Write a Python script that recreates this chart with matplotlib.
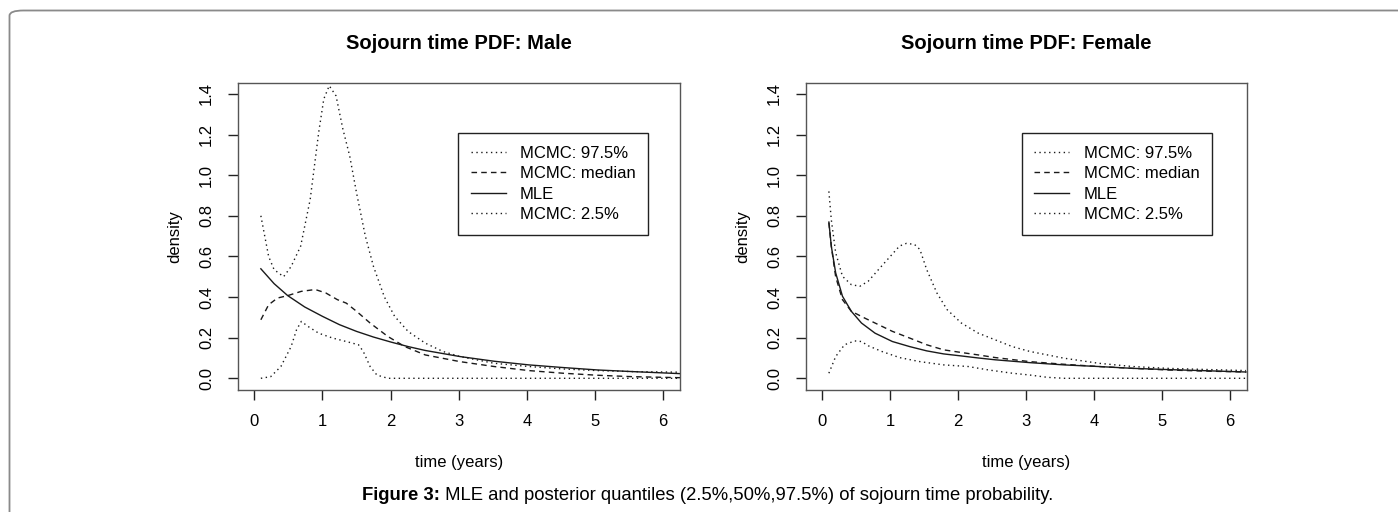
import matplotlib
matplotlib.use("Agg")
import matplotlib.pyplot as plt
from matplotlib.patches import FancyBboxPatch

plt.rcParams['font.family'] = ['Liberation Sans', 'DejaVu Sans']

# ---- Male panel ----
male_hi_x = [0.096, 0.21, 0.29, 0.43, 0.54, 0.68, 0.82, 0.945, 1.02, 1.10, 1.20, 1.30, 1.40, 1.50,
             1.63, 1.75, 1.91, 2.06, 2.26, 2.51, 2.77, 3.02, 3.52, 4.03, 4.53, 5.04, 5.55, 6.25]
male_hi_y = [0.80, 0.60, 0.535, 0.50, 0.55, 0.65, 0.88, 1.21, 1.375, 1.44, 1.39, 1.227, 1.095, 0.914,
             0.70, 0.55, 0.40, 0.305, 0.23, 0.173, 0.132, 0.107, 0.074, 0.058, 0.046, 0.038, 0.033, 0.030]

male_med_x = [0.096, 0.21, 0.34, 0.49, 0.69, 0.895, 1.05, 1.22, 1.35, 1.50, 1.70, 1.96, 2.21, 2.51,
              3.02, 3.52, 4.03, 4.53, 5.04, 5.55, 6.25]
male_med_y = [0.288, 0.362, 0.395, 0.407, 0.428, 0.437, 0.42, 0.387, 0.37, 0.33, 0.272, 0.206, 0.156, 0.115,
              0.082, 0.058, 0.038, 0.025, 0.015, 0.008, 0.003]

male_mle_x = [0.096, 0.29, 0.49, 0.74, 1.0, 1.25, 1.50, 1.75, 2.01, 2.26, 2.51, 3.02, 3.52, 4.03,
              4.53, 5.04, 5.55, 6.25]
male_mle_y = [0.539, 0.466, 0.407, 0.351, 0.305, 0.264, 0.231, 0.203, 0.178, 0.156, 0.137, 0.107, 0.084, 0.066,
              0.053, 0.041, 0.033, 0.023]

male_lo_x = [0.096, 0.24, 0.39, 0.54, 0.62, 0.69, 0.79, 0.945, 1.15, 1.35, 1.53, 1.60, 1.70, 1.80,
             1.96, 3.0, 4.0, 5.0, 6.25]
male_lo_y = [0.0, 0.008, 0.058, 0.156, 0.239, 0.28, 0.255, 0.222, 0.198, 0.181, 0.165, 0.132, 0.058, 0.016,
             0.0, 0.0, 0.0, 0.0, 0.0]

# ---- Female panel ----
fem_hi_x = [0.10, 0.136, 0.20, 0.30, 0.43, 0.556, 0.68, 0.83, 0.985, 1.14, 1.24, 1.36, 1.44, 1.54,
            1.69, 1.84, 2.05, 2.30, 2.55, 2.80, 3.06, 3.56, 4.07, 4.57, 5.08, 5.58, 6.24]
fem_hi_y = [0.92, 0.78, 0.618, 0.502, 0.461, 0.453, 0.478, 0.535, 0.593, 0.651, 0.664, 0.659, 0.634, 0.535,
            0.42, 0.338, 0.272, 0.222, 0.189, 0.156, 0.132, 0.099, 0.074, 0.058, 0.049, 0.044, 0.038]

fem_med_x = [0.10, 0.136, 0.20, 0.30, 0.43, 0.63, 0.83, 1.035, 1.29, 1.54, 1.79, 2.05, 2.30, 2.55,
             3.06, 3.56, 4.07, 4.57, 5.08, 5.58, 6.24]
fem_med_y = [0.766, 0.65, 0.50, 0.387, 0.33, 0.296, 0.264, 0.231, 0.198, 0.165, 0.14, 0.127, 0.115, 0.102,
             0.082, 0.069, 0.058, 0.049, 0.041, 0.036, 0.031]

fem_mle_x = [0.10, 0.136, 0.20, 0.30, 0.43, 0.58, 0.78, 1.035, 1.29, 1.54, 1.79, 2.05, 2.30, 2.55,
             3.06, 3.56, 4.07, 4.57, 5.08, 5.58, 6.24]
fem_mle_y = [0.769, 0.65, 0.519, 0.404, 0.33, 0.272, 0.222, 0.181, 0.156, 0.135, 0.12, 0.11, 0.10, 0.091,
             0.077, 0.066, 0.058, 0.049, 0.043, 0.038, 0.031]

fem_lo_x = [0.10, 0.20, 0.33, 0.48, 0.58, 0.68, 0.88, 1.14, 1.44, 1.79, 2.15, 2.45, 2.80, 3.06,
            3.31, 3.56, 4.5, 5.5, 6.24]
fem_lo_y = [0.025, 0.107, 0.165, 0.184, 0.181, 0.16, 0.132, 0.102, 0.082, 0.066, 0.058, 0.041, 0.025, 0.016,
            0.005, 0.0, 0.0, 0.0, 0.0]

xticks = [0, 1, 2, 3, 4, 5, 6]
yticks = [0.0, 0.2, 0.4, 0.6, 0.8, 1.0, 1.2, 1.4]
line_col = '#1a1a1a'
dotted = (0, (1, 2.5))
dashed = (0, (4, 3))

fig = plt.figure(figsize=(13.98, 5.12), dpi=100)

# outer rounded border
W, H = 1398, 512
border = FancyBboxPatch((9.5 / W, -0.2), 1.2, 1.2 - 10.5 / H, transform=fig.transFigure,
                        boxstyle="round,pad=0,rounding_size=0.01", fc='none', ec='#8a8a8a', lw=1.3)
fig.patches.append(border)

panels = [
    ("Sojourn time PDF: Male", (237.7, 680.0), male_hi_x, male_hi_y, male_med_x, male_med_y,
     male_mle_x, male_mle_y, male_lo_x, male_lo_y, 0.928),
    ("Sojourn time PDF: Female", (805.5, 1246.7), fem_hi_x, fem_hi_y, fem_med_x, fem_med_y,
     fem_mle_x, fem_mle_y, fem_lo_x, fem_lo_y, 0.921),
]

for title, (px0, px1), hx, hy, mx, my, lx, ly, qx, qy, leg_x in panels:
    ax = fig.add_axes([px0 / W, (H - 390) / H, (px1 - px0) / W, (390 - 82.7) / H])
    ax.plot(hx, hy, color=line_col, lw=1, linestyle=dotted, label="MCMC: 97.5%")
    ax.plot(mx, my, color=line_col, lw=1, linestyle=dashed, label="MCMC: median")
    ax.plot(lx, ly, color=line_col, lw=1, linestyle='-', label="MLE")
    ax.plot(qx, qy, color=line_col, lw=1, linestyle=dotted, label="MCMC: 2.5%")

    ax.set_xlim(-0.244, 6.25)
    ax.set_ylim(-0.0576, 1.455)
    ax.set_xticks(xticks)
    ax.set_xticklabels([str(t) for t in xticks])
    ax.set_yticks(yticks)
    ax.set_yticklabels(["%.1f" % t for t in yticks], rotation=90, va='center')
    ax.tick_params(axis='both', length=7, width=1, labelsize=12, pad=10, color='#222')
    for s in ax.spines.values():
        s.set_color('#555555')
        s.set_linewidth(1)

    ax.set_title(title, fontsize=14.5, fontweight='bold', pad=24)
    ax.set_xlabel("time (years)", fontsize=12, labelpad=19)
    ax.set_ylabel("density", fontsize=12, labelpad=12)

    leg = ax.legend(loc='upper right', bbox_to_anchor=(leg_x, 0.836), fontsize=12,
                    frameon=True, fancybox=False, edgecolor='#222', framealpha=1,
                    handlelength=2.1, handletextpad=0.85, labelspacing=0.33, borderpad=0.75,
                    borderaxespad=0)
    leg.get_frame().set_linewidth(1)

# caption: bold prefix + normal text, centred as a whole
cap_y = (H - 496) / H
cap_fs = 13.3
t1 = fig.text(0, cap_y, "Figure 3:", fontsize=cap_fs, fontweight='bold', va='center')
t2 = fig.text(0, cap_y, " MLE and posterior quantiles (2.5%,50%,97.5%) of sojourn time probability.",
              fontsize=cap_fs, va='center')
fig.canvas.draw()
r = fig.canvas.get_renderer()
w1 = t1.get_window_extent(r).width
w2 = t2.get_window_extent(r).width
start = (708 - (w1 + w2) / 2) / W
t1.set_x(start)
t2.set_x(start + w1 / W)

fig.savefig("out.png", dpi=100)
